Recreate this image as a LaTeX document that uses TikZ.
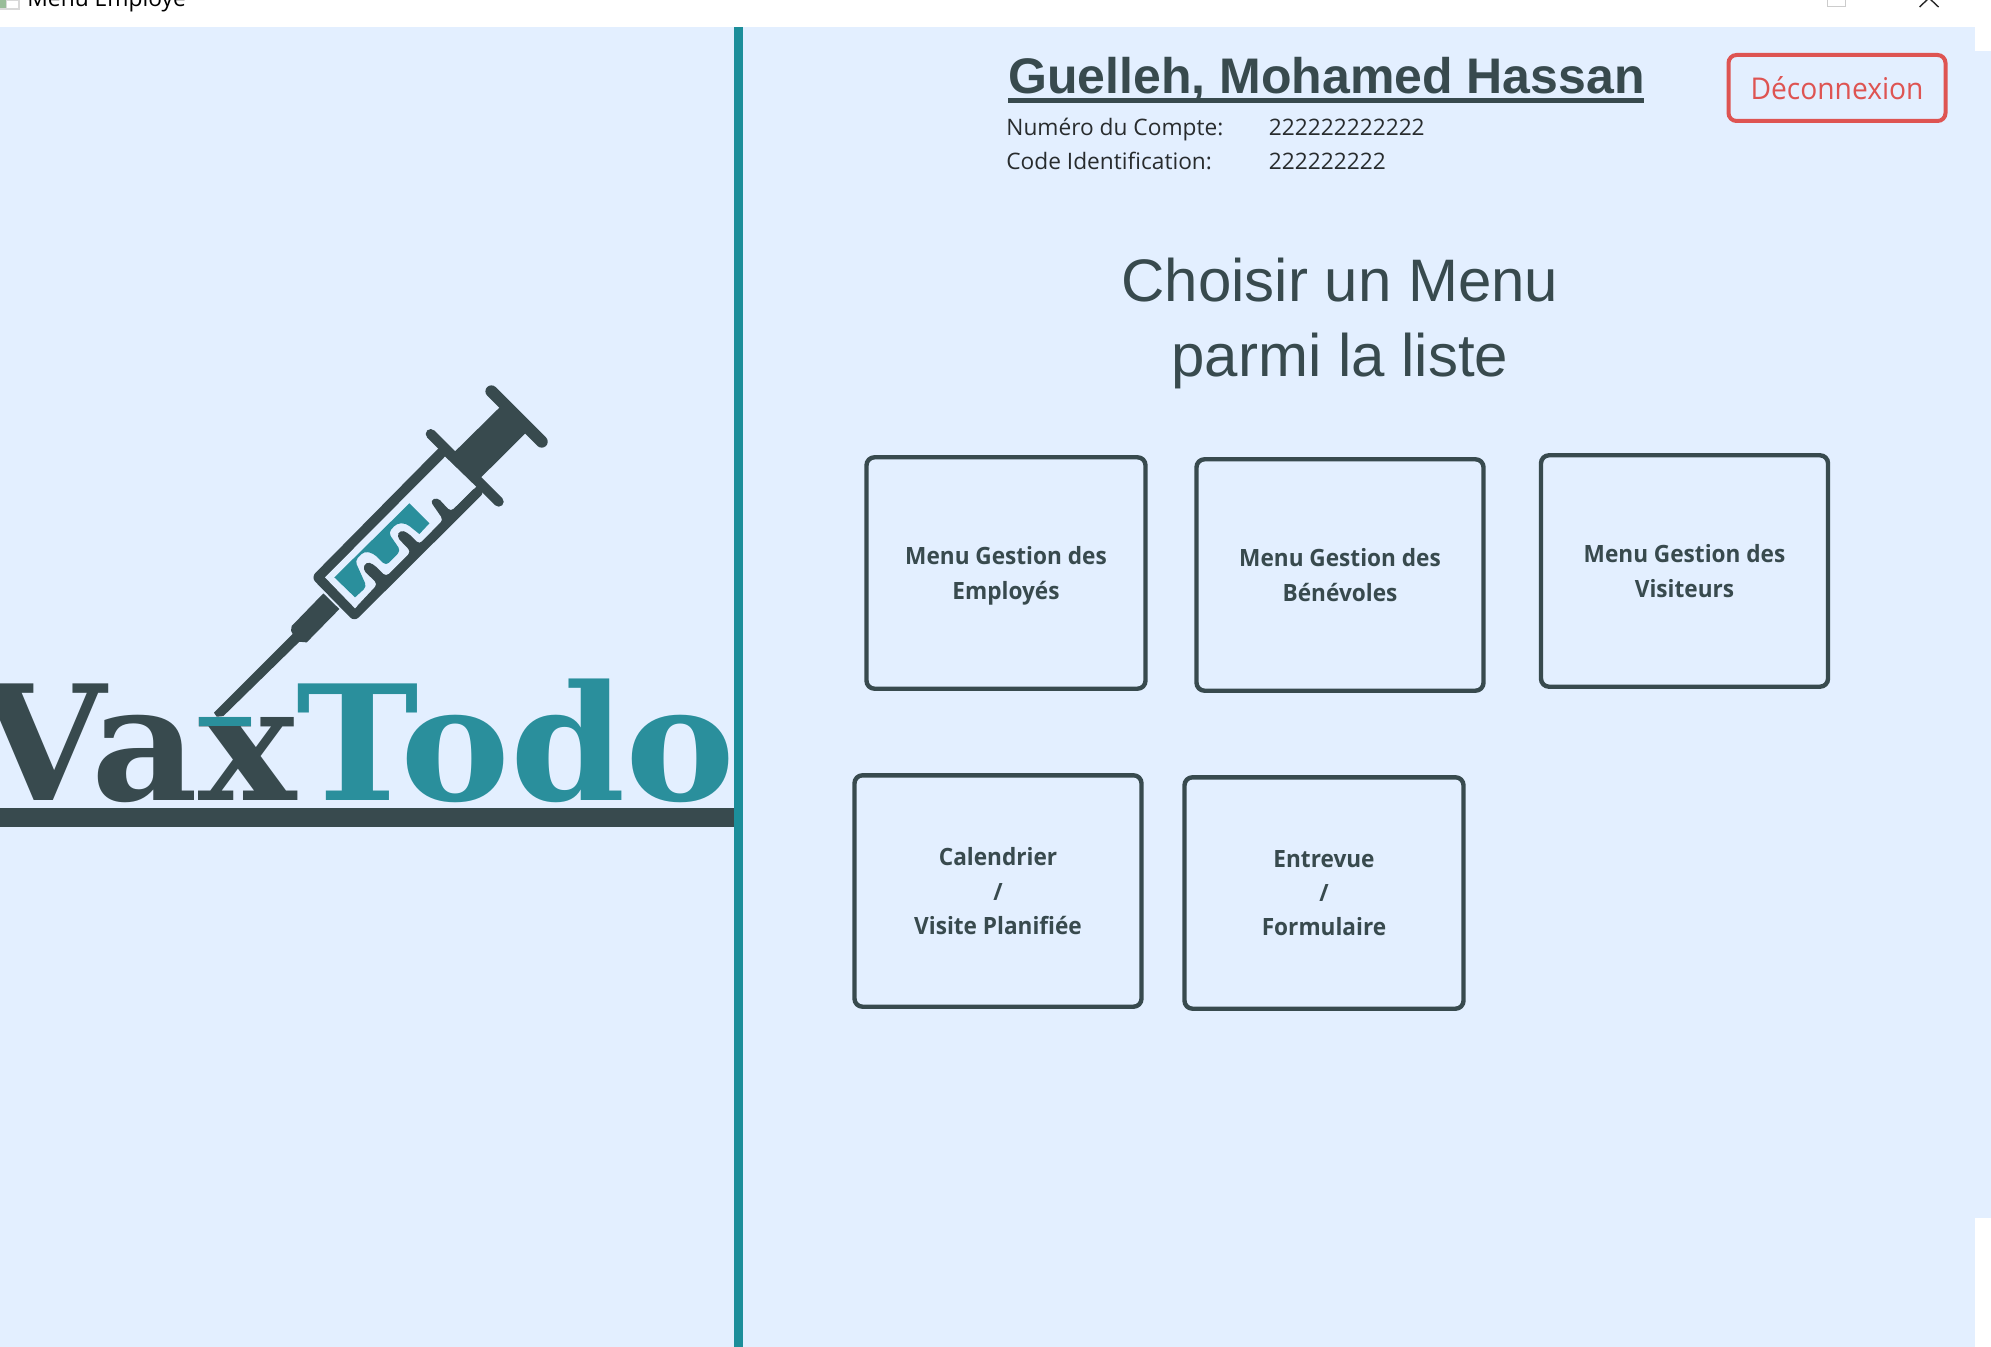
\documentclass[tikz,border=0pt]{standalone}
\usepackage{xcolor}
\usepackage{fontspec}
\usetikzlibrary{positioning,calc}
\setmainfont{Open Sans}
\newfontfamily\titlefont{Liberation Sans}
\newfontfamily\boxfont[FakeStretch=0.95]{Open Sans}
\newfontfamily\logoutfont[FakeStretch=0.94]{Open Sans}
\newfontfamily\logofont[FakeStretch=1.03]{DejaVu Serif}
\definecolor{panel}{RGB}{227,239,255}
\definecolor{slate}{RGB}{56,74,78}
\definecolor{teal}{RGB}{42,143,156}
\definecolor{divider}{RGB}{28,142,154}
\definecolor{logout}{RGB}{222,84,82}
\definecolor{plain}{RGB}{40,44,46}
\tikzset{x=.5pt}
\tikzset{y=-.5pt}
\tikzstyle{menubox}=[draw=slate,line width=2.2pt,rounded corners=4pt,align=center,text=slate,text depth=-1pt,
  font=\boxfont\bfseries\fontsize{11.9}{17.2}\selectfont]
\tikzstyle{info}=[anchor=base west,inner sep=0pt,text=plain,font=\fontsize{11.35}{13}\selectfont]
\tikzstyle{big}=[anchor=base,text=slate,font=\titlefont\fontsize{30}{36}\selectfont]
\tikzstyle{logo}=[anchor=base west,inner sep=0pt,font=\logofont\bfseries\fontsize{80}{90}\selectfont]
\begin{document}
\begin{tikzpicture}
  \useasboundingbox (0,0) rectangle (1991,1347);
  %% Window
  \fill[white] (0,0) rectangle (1991,1347);
  \fill[panel] (0,27) rectangle (1975,1347);
  \fill[panel] (1975,51) rectangle (1991,1218);
  \fill[divider] (733.5,27) rectangle (742.5,1347);
  \draw (27,7) node[info,text=black,font=\fontsize{11.4}{13}\selectfont] (caption) {Menu Employé};
  \fill[black!15] (0,0) rectangle (20,10);
  \fill[green!35!black!40] (0,0) rectangle (6,8);
  \fill[white] (7,1) rectangle (18,8);
  \draw[black!20,line width=.8pt] (1827.5,-5) rectangle (1845.5,6.5);
  \draw[black!85,line width=.7pt] (1919.5,7) -- (1929,-2) -- (1938.5,7);

  %% Logo
  \begin{scope}
    \clip (0,27) rectangle (733,1347);
    \draw (-22,800.7) node[logo,text=slate] (vax) {Vax};
    \draw (vax.base east) node[logo,text=teal] (todo) {Todo};
  \end{scope}
  \fill[teal] (199,716.7) rectangle (250.6,726);
  \fill[slate] (0,808.3) rectangle (733.5,826.7);

  %% Syringe
  \begin{scope}[shift={(200,360)},x=.1667pt,y=-.1667pt,line join=round]
    \draw[slate,line width=6pt,line cap=round] (874,94) -- (1025,245);
    \draw[slate,line width=5pt,line cap=round] (692,222) -- (896,425);
    \fill[slate] (908,133) -- (988,208) -- (835,360) -- (757,282) -- cycle;
    \fill[slate,rounded corners=3pt] (725,255) -- (333,652) -- (463,785) -- (855,395) -- cycle;
    \fill[slate] (370,700) -- (275,798) -- (273,812) -- (278,822) -- (42,1058) -- (50,1070) -- (70,1068)
      -- (298,845) -- (320,847) -- (418,747) -- cycle;
    \fill[panel] (735,290) -- (828,380) -- (465,745) -- (375,652) -- cycle;
    \fill[teal] (403,652) -- (628,430) -- (688,490) -- (658,522) [rounded corners=2pt] -- (618,490) -- (590,490)
      -- (565,518) -- (602,572) -- (558,617) -- (520,580) -- (492,574) -- (465,602)
      -- (500,680) [sharp corners] -- (465,712) -- cycle;
    \fill[slate,rounded corners=2pt] (828,380) -- (752,455) -- (712,412) -- (690,422) -- (730,480)
      -- (658,553) -- (622,517) -- (600,510) -- (590,530) -- (633,575) -- (558,650) -- (520,612)
      -- (498,605) -- (488,628) -- (533,672) -- (465,745) -- (480,760) -- (845,395) -- cycle;
  \end{scope}

  %% Header
  \draw (1326.5,93.5) node[big,font=\titlefont\bfseries\fontsize{25}{30}\selectfont] (name) {Guelleh, Mohamed Hassan};
  \fill[slate] (1008,98.3) rectangle (1644,103.3);
  \draw (1006,136) node[info] (account) {Numéro du Compte:};
  \draw (1268.5,136) node[info] (accountval) {222222222222};
  \draw (1006,170) node[info] (code) {Code Identification:};
  \draw (1268.5,170) node[info] (codeval) {222222222};
  \draw (1837,88) node[draw=logout,line width=2pt,rounded corners=4pt,minimum width=108.5pt,minimum height=33pt,
    text=logout,font=\logoutfont\fontsize{15}{18}\selectfont] (logoutbtn) {Déconnexion};
  \draw (1340,302) node[big] (choose) {Choisir un Menu};
  \draw (1340,376.5) node[big] (pick) {parmi la liste};

  %% Menu buttons
  \draw (1006,573) node[menubox,minimum width=139.5pt,minimum height=115.7pt] (employees) {Menu Gestion des\\Employés};
  \draw (1340,575) node[menubox,minimum width=143.5pt,minimum height=115.7pt] (volunteers) {Menu Gestion des\\Bénévoles};
  \draw (1684.5,571) node[menubox,minimum width=143.5pt,minimum height=115.7pt] (visitors) {Menu Gestion des\\Visiteurs};
  \draw (998,891) node[menubox,minimum width=143.5pt,minimum height=115.7pt] (calendar) {Calendrier\\/\\Visite Planifiée};
  \draw (1324,893) node[menubox,minimum width=139.5pt,minimum height=115.7pt] (interview) {Entrevue\\/\\Formulaire};
\end{tikzpicture}
\end{document}
